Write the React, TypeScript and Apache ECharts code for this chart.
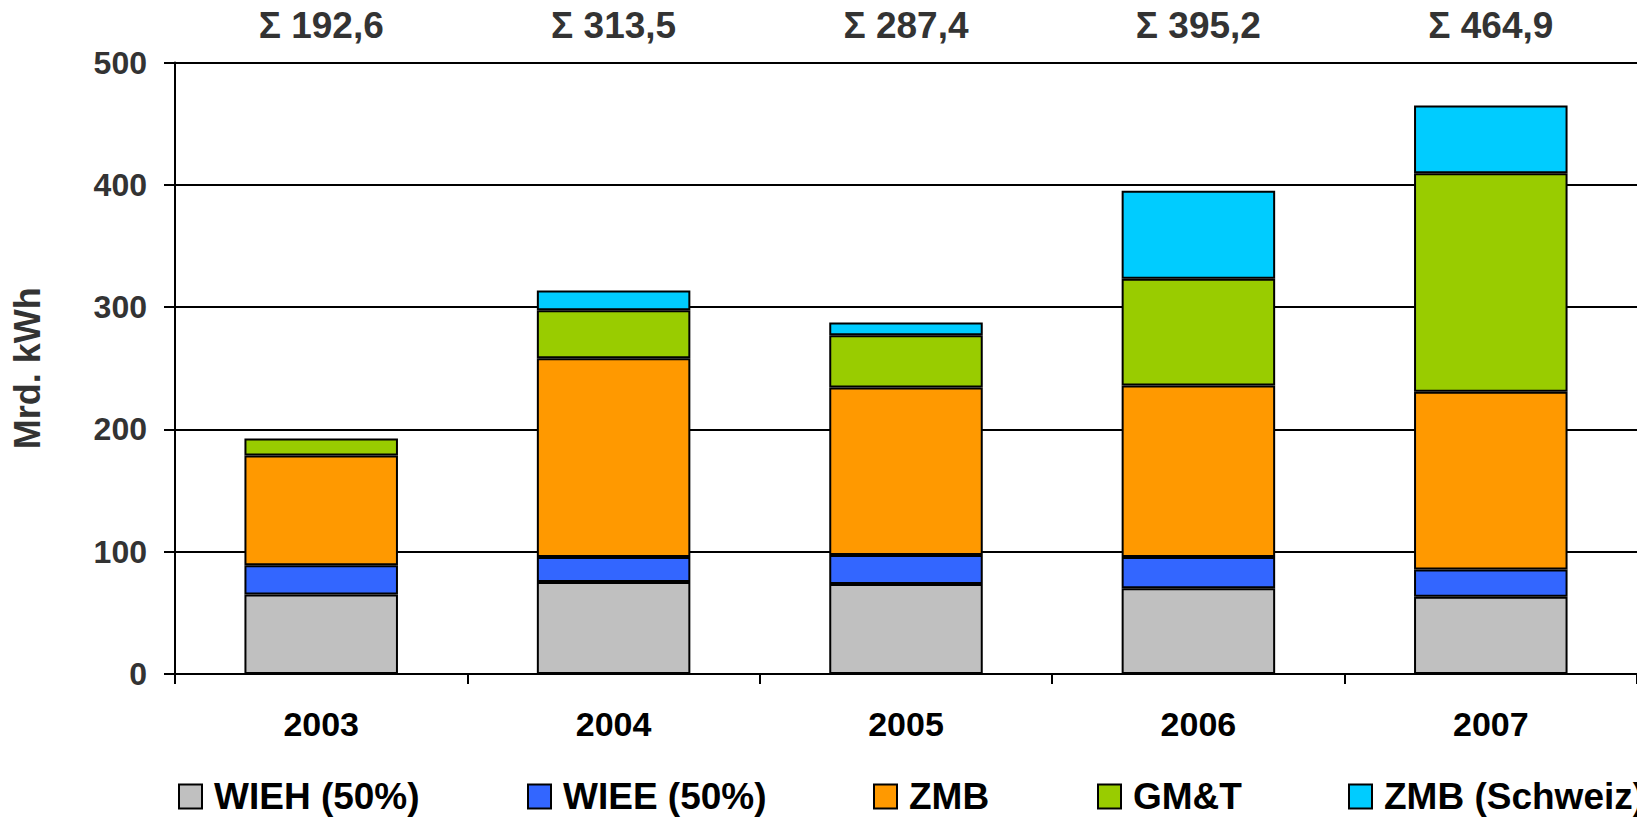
import React, { useEffect, useRef } from "react";
import * as echarts from "echarts";

const years = ["2003", "2004", "2005", "2006", "2007"];
const wieh = [65.0, 75.2, 73.5, 70.1, 63.2];
const wiee = [24.0, 20.5, 23.9, 25.6, 22.3];
const zmb = [89.6, 162.4, 136.8, 140.2, 145.3];
const gmt = [14.0, 39.3, 42.7, 87.2, 178.6];
const zmbSchweiz = [null, 16.1, 10.5, 72.1, 55.5];
const totals = [192.6, 313.5, 287.4, 395.2, 464.9];
const yTicks = [0, 100, 200, 300, 400, 500];

const seriesDefs = [
  { name: "WIEH (50%)", data: wieh, color: "#C0C0C0", legendLeft: 178 },
  { name: "WIEE (50%)", data: wiee, color: "#3366FF", legendLeft: 527 },
  { name: "ZMB", data: zmb, color: "#FF9900", legendLeft: 873 },
  { name: "GM&T", data: gmt, color: "#99CC00", legendLeft: 1097 },
  { name: "ZMB (Schweiz)", data: zmbSchweiz, color: "#00CCFF", legendLeft: 1348 },
];

const FONT = "'Liberation Sans', Arial, sans-serif";

export default function App() {
  const ref = useRef<HTMLDivElement>(null);
  useEffect(() => {
    document.body.style.margin = "0";
    if (!ref.current) return;
    const chart = echarts.init(ref.current, null, { renderer: "svg" });
    chart.setOption({
      animation: false,
      backgroundColor: "#ffffff",
      textStyle: { fontFamily: FONT },
      grid: { left: 175, top: 62.5, width: 1468, height: 611.5, containLabel: false },
      legend: seriesDefs.map((s) => ({
        data: [{ name: s.name, icon: "rect" }],
        left: s.legendLeft,
        top: 778,
        padding: 0,
        itemWidth: 23,
        itemHeight: 24,
        selectedMode: false,
        itemStyle: { borderColor: "#000", borderWidth: 2 },
        textStyle: {
          fontFamily: FONT,
          fontSize: 37,
          fontWeight: "bold",
          color: "#000",
          padding: [0, 0, 0, 7],
        },
      })),
      xAxis: [
        {
          type: "category",
          data: years,
          position: "bottom",
          axisLine: { lineStyle: { color: "#000", width: 2 } },
          axisTick: { show: true, length: 10, lineStyle: { color: "#000", width: 2 } },
          axisLabel: {
            fontFamily: FONT,
            fontSize: 34,
            fontWeight: "bold",
            color: "#000",
            margin: 50,
            verticalAlign: "middle",
          },
        },
        {
          type: "category",
          data: totals.map((t) => "Σ " + t.toFixed(1).replace(".", ",")),
          position: "top",
          axisLine: { show: false },
          axisTick: { show: false },
          axisLabel: {
            fontFamily: FONT,
            fontSize: 37,
            fontWeight: "bold",
            color: "#333",
            margin: 37,
            verticalAlign: "middle",
          },
        },
      ],
      yAxis: {
        type: "value",
        min: yTicks[0],
        max: yTicks[yTicks.length - 1],
        interval: 100,
        name: "Mrd. kWh",
        nameLocation: "middle",
        nameGap: 130,
        nameTextStyle: { fontFamily: FONT, fontSize: 36, fontWeight: "bold", color: "#333" },
        axisLine: { show: true, lineStyle: { color: "#000", width: 2 } },
        axisTick: { show: true, length: 11, lineStyle: { color: "#000", width: 2 } },
        splitLine: { show: true, lineStyle: { color: "#000", width: 2 } },
        axisLabel: {
          fontFamily: FONT,
          fontSize: 32,
          fontWeight: "bold",
          color: "#333",
          margin: 28,
        },
      },
      series: seriesDefs.map((s) => ({
        name: s.name,
        type: "bar",
        stack: "total",
        xAxisIndex: 0,
        barCategoryGap: "47.5%",
        data: s.data,
        itemStyle: { color: s.color, borderColor: "#000", borderWidth: 2 },
      })),
    });
    return () => chart.dispose();
  }, []);
  return <div ref={ref} style={{ width: 1637, height: 818 }} />;
}
